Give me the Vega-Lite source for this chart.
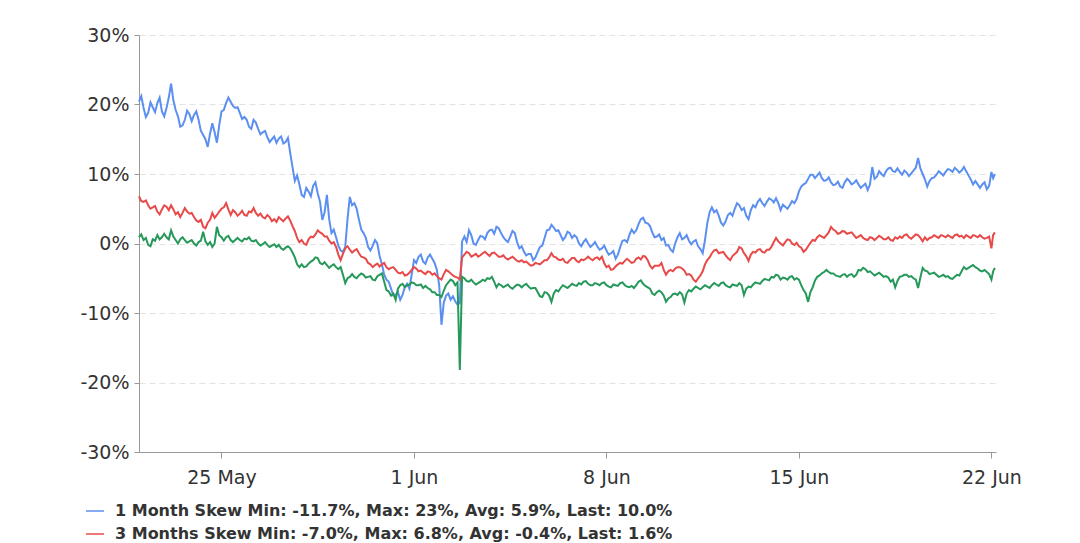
{
 "$schema": "https://vega.github.io/schema/vega-lite/v6.json",
 "width": 857, "height": 417,
 "autosize": {"type": "none"},
 "padding": {"left": 139, "top": 35, "right": 84, "bottom": 91},
 "background": "white",
 "config": {"view": {"stroke": null}, "font": "DejaVu Sans"},
 "data": {"name": "skew"},
 "datasets": {"skew": [
{"t":"2020-05-22T00:00","m1":20.4,"m3":6.8,"m6":0.9},
{"t":"2020-05-22T02:00","m1":21.2,"m3":6.1,"m6":1.3},
{"t":"2020-05-22T04:00","m1":19.5,"m3":6.0,"m6":0.5},
{"t":"2020-05-22T06:00","m1":18.2,"m3":6.2,"m6":0.8},
{"t":"2020-05-22T08:00","m1":18.8,"m3":5.5,"m6":-0.2},
{"t":"2020-05-22T10:00","m1":20.3,"m3":5.0,"m6":-0.4},
{"t":"2020-05-22T12:00","m1":19.6,"m3":5.2,"m6":0.6},
{"t":"2020-05-22T14:00","m1":18.9,"m3":5.4,"m6":0.4},
{"t":"2020-05-22T16:00","m1":20.2,"m3":4.6,"m6":1.2},
{"t":"2020-05-22T18:00","m1":21.0,"m3":4.2,"m6":0.6},
{"t":"2020-05-22T20:00","m1":19.0,"m3":4.9,"m6":0.9},
{"t":"2020-05-22T22:00","m1":18.3,"m3":5.5,"m6":1.4},
{"t":"2020-05-23T00:00","m1":19.5,"m3":5.3,"m6":0.9},
{"t":"2020-05-23T02:00","m1":21.0,"m3":4.8,"m6":0.6},
{"t":"2020-05-23T04:00","m1":23.0,"m3":5.5,"m6":1.9},
{"t":"2020-05-23T06:00","m1":20.6,"m3":4.9,"m6":1.0},
{"t":"2020-05-23T08:00","m1":19.2,"m3":4.2,"m6":0.5},
{"t":"2020-05-23T10:00","m1":18.3,"m3":4.5,"m6":0.0},
{"t":"2020-05-23T12:00","m1":16.8,"m3":3.8,"m6":0.6},
{"t":"2020-05-23T14:00","m1":17.0,"m3":4.4,"m6":0.9},
{"t":"2020-05-23T16:00","m1":17.8,"m3":5.1,"m6":0.5},
{"t":"2020-05-23T18:00","m1":19.1,"m3":4.6,"m6":0.1},
{"t":"2020-05-23T20:00","m1":18.6,"m3":4.3,"m6":0.3},
{"t":"2020-05-23T22:00","m1":17.6,"m3":4.4,"m6":0.5},
{"t":"2020-05-24T00:00","m1":18.5,"m3":3.8,"m6":0.0},
{"t":"2020-05-24T02:00","m1":19.0,"m3":3.3,"m6":-0.3},
{"t":"2020-05-24T04:00","m1":17.8,"m3":3.1,"m6":0.2},
{"t":"2020-05-24T06:00","m1":16.2,"m3":3.4,"m6":0.4},
{"t":"2020-05-24T08:00","m1":15.6,"m3":2.4,"m6":1.7},
{"t":"2020-05-24T10:00","m1":15.0,"m3":2.2,"m6":0.3},
{"t":"2020-05-24T12:00","m1":13.9,"m3":3.0,"m6":-0.2},
{"t":"2020-05-24T14:00","m1":15.8,"m3":3.4,"m6":0.2},
{"t":"2020-05-24T16:00","m1":17.3,"m3":4.4,"m6":-0.5},
{"t":"2020-05-24T18:00","m1":16.0,"m3":3.7,"m6":0.0},
{"t":"2020-05-24T20:00","m1":14.5,"m3":4.1,"m6":2.4},
{"t":"2020-05-24T22:00","m1":17.0,"m3":4.6,"m6":1.2},
{"t":"2020-05-25T00:00","m1":19.0,"m3":5.0,"m6":0.9},
{"t":"2020-05-25T02:00","m1":19.2,"m3":5.2,"m6":0.4},
{"t":"2020-05-25T04:00","m1":20.2,"m3":5.8,"m6":0.9},
{"t":"2020-05-25T06:00","m1":21.0,"m3":4.9,"m6":1.1},
{"t":"2020-05-25T08:00","m1":20.4,"m3":4.1,"m6":0.5},
{"t":"2020-05-25T10:00","m1":19.8,"m3":4.8,"m6":0.2},
{"t":"2020-05-25T12:00","m1":19.5,"m3":4.5,"m6":0.5},
{"t":"2020-05-25T14:00","m1":19.6,"m3":4.0,"m6":0.8},
{"t":"2020-05-25T16:00","m1":18.8,"m3":4.3,"m6":0.5},
{"t":"2020-05-25T18:00","m1":17.9,"m3":4.7,"m6":0.3},
{"t":"2020-05-25T20:00","m1":18.2,"m3":4.1,"m6":0.7},
{"t":"2020-05-25T22:00","m1":17.8,"m3":4.0,"m6":0.6},
{"t":"2020-05-26T00:00","m1":16.8,"m3":4.6,"m6":0.9},
{"t":"2020-05-26T02:00","m1":16.5,"m3":4.5,"m6":0.4},
{"t":"2020-05-26T04:00","m1":17.8,"m3":5.1,"m6":0.3},
{"t":"2020-05-26T06:00","m1":17.4,"m3":4.4,"m6":0.5},
{"t":"2020-05-26T08:00","m1":16.5,"m3":4.0,"m6":0.0},
{"t":"2020-05-26T10:00","m1":15.7,"m3":4.3,"m6":-0.3},
{"t":"2020-05-26T12:00","m1":16.0,"m3":3.8,"m6":-0.1},
{"t":"2020-05-26T14:00","m1":16.2,"m3":3.6,"m6":0.2},
{"t":"2020-05-26T16:00","m1":15.3,"m3":4.1,"m6":-0.2},
{"t":"2020-05-26T18:00","m1":14.6,"m3":3.8,"m6":-0.5},
{"t":"2020-05-26T20:00","m1":15.0,"m3":3.2,"m6":-0.3},
{"t":"2020-05-26T22:00","m1":15.4,"m3":3.5,"m6":-0.1},
{"t":"2020-05-27T00:00","m1":14.5,"m3":3.1,"m6":-0.5},
{"t":"2020-05-27T02:00","m1":15.1,"m3":3.8,"m6":-0.2},
{"t":"2020-05-27T04:00","m1":15.4,"m3":3.5,"m6":-0.7},
{"t":"2020-05-27T06:00","m1":14.4,"m3":3.2,"m6":-0.9},
{"t":"2020-05-27T08:00","m1":14.6,"m3":3.6,"m6":-0.6},
{"t":"2020-05-27T10:00","m1":15.2,"m3":3.9,"m6":-0.4},
{"t":"2020-05-27T12:00","m1":13.0,"m3":3.3,"m6":-0.7},
{"t":"2020-05-27T14:00","m1":11.0,"m3":2.5,"m6":-1.3},
{"t":"2020-05-27T16:00","m1":9.0,"m3":1.8,"m6":-2.0},
{"t":"2020-05-27T18:00","m1":9.8,"m3":0.8,"m6":-3.0},
{"t":"2020-05-27T20:00","m1":8.5,"m3":0.2,"m6":-3.4},
{"t":"2020-05-27T22:00","m1":7.0,"m3":0.5,"m6":-3.0},
{"t":"2020-05-28T00:00","m1":6.7,"m3":0.0,"m6":-3.4},
{"t":"2020-05-28T02:00","m1":8.0,"m3":-0.2,"m6":-3.3},
{"t":"2020-05-28T04:00","m1":7.5,"m3":0.6,"m6":-2.9},
{"t":"2020-05-28T06:00","m1":6.8,"m3":1.0,"m6":-2.6},
{"t":"2020-05-28T08:00","m1":8.3,"m3":0.9,"m6":-2.4},
{"t":"2020-05-28T10:00","m1":8.8,"m3":1.3,"m6":-2.0},
{"t":"2020-05-28T12:00","m1":7.2,"m3":1.9,"m6":-2.1},
{"t":"2020-05-28T14:00","m1":6.0,"m3":1.6,"m6":-2.8},
{"t":"2020-05-28T16:00","m1":3.4,"m3":1.4,"m6":-3.0},
{"t":"2020-05-28T18:00","m1":4.5,"m3":1.0,"m6":-2.7},
{"t":"2020-05-28T20:00","m1":7.0,"m3":1.0,"m6":-3.1},
{"t":"2020-05-28T22:00","m1":3.5,"m3":0.4,"m6":-3.5},
{"t":"2020-05-29T00:00","m1":1.5,"m3":0.0,"m6":-3.2},
{"t":"2020-05-29T02:00","m1":2.0,"m3":0.2,"m6":-3.0},
{"t":"2020-05-29T04:00","m1":0.9,"m3":-0.5,"m6":-3.4},
{"t":"2020-05-29T06:00","m1":-0.3,"m3":-1.6,"m6":-3.7},
{"t":"2020-05-29T08:00","m1":-1.0,"m3":-2.4,"m6":-3.4},
{"t":"2020-05-29T10:00","m1":-1.2,"m3":-1.5,"m6":-4.5},
{"t":"2020-05-29T12:00","m1":-0.5,"m3":-0.7,"m6":-5.7},
{"t":"2020-05-29T14:00","m1":3.5,"m3":-0.4,"m6":-5.0},
{"t":"2020-05-29T16:00","m1":6.7,"m3":-0.9,"m6":-4.8},
{"t":"2020-05-29T18:00","m1":5.5,"m3":-1.3,"m6":-4.4},
{"t":"2020-05-29T20:00","m1":5.8,"m3":-1.0,"m6":-4.8},
{"t":"2020-05-29T22:00","m1":5.0,"m3":-0.8,"m6":-5.0},
{"t":"2020-05-30T00:00","m1":3.4,"m3":-1.4,"m6":-4.6},
{"t":"2020-05-30T02:00","m1":2.0,"m3":-1.9,"m6":-4.3},
{"t":"2020-05-30T04:00","m1":1.5,"m3":-2.0,"m6":-4.5},
{"t":"2020-05-30T06:00","m1":0.8,"m3":-2.2,"m6":-4.9},
{"t":"2020-05-30T08:00","m1":-0.5,"m3":-2.8,"m6":-4.8},
{"t":"2020-05-30T10:00","m1":-1.0,"m3":-3.0,"m6":-4.7},
{"t":"2020-05-30T12:00","m1":-0.3,"m3":-3.4,"m6":-5.2},
{"t":"2020-05-30T14:00","m1":0.5,"m3":-3.1,"m6":-5.3},
{"t":"2020-05-30T16:00","m1":0.0,"m3":-2.9,"m6":-4.7},
{"t":"2020-05-30T18:00","m1":-1.8,"m3":-3.3,"m6":-4.5},
{"t":"2020-05-30T20:00","m1":-3.0,"m3":-3.0,"m6":-4.3},
{"t":"2020-05-30T22:00","m1":-4.5,"m3":-2.8,"m6":-5.5},
{"t":"2020-05-31T00:00","m1":-5.2,"m3":-3.4,"m6":-6.7},
{"t":"2020-05-31T02:00","m1":-5.5,"m3":-3.7,"m6":-6.9},
{"t":"2020-05-31T04:00","m1":-6.5,"m3":-3.5,"m6":-7.5},
{"t":"2020-05-31T06:00","m1":-7.5,"m3":-3.4,"m6":-7.2},
{"t":"2020-05-31T08:00","m1":-7.4,"m3":-3.8,"m6":-8.1},
{"t":"2020-05-31T10:00","m1":-7.0,"m3":-4.2,"m6":-6.5},
{"t":"2020-05-31T12:00","m1":-8.1,"m3":-4.3,"m6":-6.0},
{"t":"2020-05-31T14:00","m1":-7.4,"m3":-4.1,"m6":-5.8},
{"t":"2020-05-31T16:00","m1":-6.3,"m3":-4.6,"m6":-6.3},
{"t":"2020-05-31T18:00","m1":-5.8,"m3":-4.5,"m6":-6.0},
{"t":"2020-05-31T20:00","m1":-6.5,"m3":-4.2,"m6":-5.9},
{"t":"2020-05-31T22:00","m1":-4.5,"m3":-3.8,"m6":-5.6},
{"t":"2020-06-01T00:00","m1":-2.4,"m3":-3.4,"m6":-5.7},
{"t":"2020-06-01T02:00","m1":-2.8,"m3":-3.6,"m6":-6.0},
{"t":"2020-06-01T04:00","m1":-1.9,"m3":-4.0,"m6":-6.0},
{"t":"2020-06-01T06:00","m1":-1.6,"m3":-3.9,"m6":-5.9},
{"t":"2020-06-01T08:00","m1":-2.6,"m3":-4.2,"m6":-6.4},
{"t":"2020-06-01T10:00","m1":-2.9,"m3":-4.4,"m6":-6.1},
{"t":"2020-06-01T12:00","m1":-2.0,"m3":-4.0,"m6":-6.4},
{"t":"2020-06-01T14:00","m1":-1.6,"m3":-4.1,"m6":-6.6},
{"t":"2020-06-01T16:00","m1":-2.2,"m3":-4.5,"m6":-7.0},
{"t":"2020-06-01T18:00","m1":-2.8,"m3":-4.3,"m6":-7.0},
{"t":"2020-06-01T20:00","m1":-3.8,"m3":-4.7,"m6":-7.4},
{"t":"2020-06-01T22:00","m1":-6.0,"m3":-5.0,"m6":-7.4},
{"t":"2020-06-02T00:00","m1":-11.7,"m3":-5.2,"m6":-7.7},
{"t":"2020-06-02T02:00","m1":-8.5,"m3":-4.4,"m6":-6.8},
{"t":"2020-06-02T04:00","m1":-7.5,"m3":-3.8,"m6":-6.0},
{"t":"2020-06-02T06:00","m1":-7.2,"m3":-4.0,"m6":-5.6},
{"t":"2020-06-02T08:00","m1":-8.1,"m3":-4.3,"m6":-5.2},
{"t":"2020-06-02T10:00","m1":-7.6,"m3":-4.6,"m6":-5.4},
{"t":"2020-06-02T12:00","m1":-8.3,"m3":-4.8,"m6":-6.0},
{"t":"2020-06-02T14:00","m1":-8.8,"m3":-4.9,"m6":-5.6},
{"t":"2020-06-02T16:00","m1":-8.6,"m3":-5.2,"m6":-18.2},
{"t":"2020-06-02T18:00","m1":0.3,"m3":-2.0,"m6":-4.8},
{"t":"2020-06-02T20:00","m1":1.0,"m3":-1.6,"m6":-5.0},
{"t":"2020-06-02T22:00","m1":0.2,"m3":-1.2,"m6":-5.4},
{"t":"2020-06-03T00:00","m1":1.9,"m3":-1.4,"m6":-5.5},
{"t":"2020-06-03T02:00","m1":1.2,"m3":-1.9,"m6":-5.2},
{"t":"2020-06-03T04:00","m1":0.0,"m3":-1.7,"m6":-5.6},
{"t":"2020-06-03T06:00","m1":-0.2,"m3":-1.5,"m6":-5.9},
{"t":"2020-06-03T08:00","m1":0.5,"m3":-1.9,"m6":-5.7},
{"t":"2020-06-03T10:00","m1":1.1,"m3":-1.7,"m6":-5.5},
{"t":"2020-06-03T12:00","m1":1.0,"m3":-1.4,"m6":-5.2},
{"t":"2020-06-03T14:00","m1":0.6,"m3":-1.2,"m6":-5.4},
{"t":"2020-06-03T16:00","m1":1.5,"m3":-1.5,"m6":-5.0},
{"t":"2020-06-03T18:00","m1":1.9,"m3":-1.8,"m6":-5.1},
{"t":"2020-06-03T20:00","m1":2.0,"m3":-1.4,"m6":-4.8},
{"t":"2020-06-03T22:00","m1":1.4,"m3":-1.3,"m6":-5.5},
{"t":"2020-06-04T00:00","m1":2.4,"m3":-1.6,"m6":-6.3},
{"t":"2020-06-04T02:00","m1":2.2,"m3":-1.9,"m6":-5.8},
{"t":"2020-06-04T04:00","m1":1.5,"m3":-1.9,"m6":-6.0},
{"t":"2020-06-04T06:00","m1":0.9,"m3":-1.7,"m6":-6.3},
{"t":"2020-06-04T08:00","m1":0.5,"m3":-2.1,"m6":-6.1},
{"t":"2020-06-04T10:00","m1":0.2,"m3":-2.3,"m6":-5.9},
{"t":"2020-06-04T12:00","m1":1.0,"m3":-2.1,"m6":-6.3},
{"t":"2020-06-04T14:00","m1":1.8,"m3":-1.9,"m6":-6.5},
{"t":"2020-06-04T16:00","m1":1.5,"m3":-2.2,"m6":-6.2},
{"t":"2020-06-04T18:00","m1":0.2,"m3":-2.5,"m6":-5.9},
{"t":"2020-06-04T20:00","m1":-0.7,"m3":-2.6,"m6":-6.0},
{"t":"2020-06-04T22:00","m1":-0.4,"m3":-2.4,"m6":-6.3},
{"t":"2020-06-05T00:00","m1":-1.2,"m3":-2.7,"m6":-6.0},
{"t":"2020-06-05T02:00","m1":-1.7,"m3":-2.6,"m6":-5.8},
{"t":"2020-06-05T04:00","m1":-1.5,"m3":-2.9,"m6":-6.2},
{"t":"2020-06-05T06:00","m1":-1.5,"m3":-3.2,"m6":-6.5},
{"t":"2020-06-05T08:00","m1":-2.4,"m3":-3.1,"m6":-6.4},
{"t":"2020-06-05T10:00","m1":-2.0,"m3":-2.8,"m6":-6.4},
{"t":"2020-06-05T12:00","m1":-1.2,"m3":-2.9,"m6":-7.0},
{"t":"2020-06-05T14:00","m1":-0.5,"m3":-3.0,"m6":-7.6},
{"t":"2020-06-05T16:00","m1":-0.3,"m3":-2.7,"m6":-7.7},
{"t":"2020-06-05T18:00","m1":0.8,"m3":-2.4,"m6":-7.0},
{"t":"2020-06-05T20:00","m1":1.9,"m3":-2.4,"m6":-7.1},
{"t":"2020-06-05T22:00","m1":2.0,"m3":-2.0,"m6":-7.5},
{"t":"2020-06-06T00:00","m1":2.7,"m3":-1.4,"m6":-8.4},
{"t":"2020-06-06T02:00","m1":2.3,"m3":-1.9,"m6":-7.2},
{"t":"2020-06-06T04:00","m1":1.8,"m3":-2.0,"m6":-6.7},
{"t":"2020-06-06T06:00","m1":1.9,"m3":-2.3,"m6":-6.9},
{"t":"2020-06-06T08:00","m1":1.2,"m3":-2.4,"m6":-6.4},
{"t":"2020-06-06T10:00","m1":0.5,"m3":-2.2,"m6":-6.0},
{"t":"2020-06-06T12:00","m1":0.9,"m3":-2.7,"m6":-6.2},
{"t":"2020-06-06T14:00","m1":1.7,"m3":-2.8,"m6":-6.4},
{"t":"2020-06-06T16:00","m1":1.5,"m3":-2.4,"m6":-6.1},
{"t":"2020-06-06T18:00","m1":0.8,"m3":-2.1,"m6":-5.8},
{"t":"2020-06-06T20:00","m1":1.2,"m3":-2.1,"m6":-6.0},
{"t":"2020-06-06T22:00","m1":0.9,"m3":-2.5,"m6":-6.1},
{"t":"2020-06-07T00:00","m1":0.0,"m3":-2.7,"m6":-5.7},
{"t":"2020-06-07T02:00","m1":-0.4,"m3":-2.3,"m6":-5.9},
{"t":"2020-06-07T04:00","m1":0.2,"m3":-2.4,"m6":-5.5},
{"t":"2020-06-07T06:00","m1":0.6,"m3":-2.2,"m6":-5.4},
{"t":"2020-06-07T08:00","m1":0.0,"m3":-1.9,"m6":-5.8},
{"t":"2020-06-07T10:00","m1":-0.5,"m3":-2.2,"m6":-6.0},
{"t":"2020-06-07T12:00","m1":-0.2,"m3":-2.4,"m6":-6.0},
{"t":"2020-06-07T14:00","m1":0.2,"m3":-2.1,"m6":-5.7},
{"t":"2020-06-07T16:00","m1":-0.4,"m3":-2.0,"m6":-5.8},
{"t":"2020-06-07T18:00","m1":-0.9,"m3":-2.3,"m6":-6.0},
{"t":"2020-06-07T20:00","m1":-0.7,"m3":-1.9,"m6":-5.7},
{"t":"2020-06-07T22:00","m1":-0.3,"m3":-2.8,"m6":-5.6},
{"t":"2020-06-08T00:00","m1":-1.0,"m3":-3.4,"m6":-6.0},
{"t":"2020-06-08T02:00","m1":-1.6,"m3":-3.2,"m6":-6.2},
{"t":"2020-06-08T04:00","m1":-1.4,"m3":-3.8,"m6":-6.3},
{"t":"2020-06-08T06:00","m1":-1.1,"m3":-3.7,"m6":-5.9},
{"t":"2020-06-08T08:00","m1":-2.2,"m3":-3.3,"m6":-6.0},
{"t":"2020-06-08T10:00","m1":-1.6,"m3":-3.0,"m6":-6.1},
{"t":"2020-06-08T12:00","m1":-0.5,"m3":-2.8,"m6":-5.7},
{"t":"2020-06-08T14:00","m1":0.4,"m3":-2.9,"m6":-5.6},
{"t":"2020-06-08T16:00","m1":0.5,"m3":-2.5,"m6":-6.0},
{"t":"2020-06-08T18:00","m1":0.2,"m3":-2.2,"m6":-6.2},
{"t":"2020-06-08T20:00","m1":1.2,"m3":-2.5,"m6":-6.3},
{"t":"2020-06-08T22:00","m1":2.0,"m3":-2.8,"m6":-6.1},
{"t":"2020-06-09T00:00","m1":1.5,"m3":-2.7,"m6":-6.4},
{"t":"2020-06-09T02:00","m1":1.9,"m3":-2.2,"m6":-6.0},
{"t":"2020-06-09T04:00","m1":2.8,"m3":-2.0,"m6":-5.5},
{"t":"2020-06-09T06:00","m1":3.5,"m3":-2.3,"m6":-5.3},
{"t":"2020-06-09T08:00","m1":3.7,"m3":-1.8,"m6":-5.8},
{"t":"2020-06-09T10:00","m1":3.0,"m3":-1.9,"m6":-6.1},
{"t":"2020-06-09T12:00","m1":2.9,"m3":-2.4,"m6":-6.3},
{"t":"2020-06-09T14:00","m1":2.5,"m3":-3.2,"m6":-6.5},
{"t":"2020-06-09T16:00","m1":1.6,"m3":-3.6,"m6":-7.2},
{"t":"2020-06-09T18:00","m1":0.9,"m3":-3.2,"m6":-7.4},
{"t":"2020-06-09T20:00","m1":1.0,"m3":-3.2,"m6":-7.0},
{"t":"2020-06-09T22:00","m1":1.3,"m3":-3.2,"m6":-6.8},
{"t":"2020-06-10T00:00","m1":0.5,"m3":-2.8,"m6":-7.0},
{"t":"2020-06-10T02:00","m1":0.8,"m3":-3.8,"m6":-7.5},
{"t":"2020-06-10T04:00","m1":-0.3,"m3":-4.5,"m6":-8.4},
{"t":"2020-06-10T06:00","m1":-0.2,"m3":-4.0,"m6":-7.9},
{"t":"2020-06-10T08:00","m1":-0.9,"m3":-3.8,"m6":-7.7},
{"t":"2020-06-10T10:00","m1":-1.2,"m3":-4.0,"m6":-7.3},
{"t":"2020-06-10T12:00","m1":0.0,"m3":-3.6,"m6":-7.2},
{"t":"2020-06-10T14:00","m1":0.9,"m3":-3.4,"m6":-7.4},
{"t":"2020-06-10T16:00","m1":1.5,"m3":-3.4,"m6":-7.0},
{"t":"2020-06-10T18:00","m1":0.6,"m3":-3.6,"m6":-7.3},
{"t":"2020-06-10T20:00","m1":0.8,"m3":-3.9,"m6":-8.5},
{"t":"2020-06-10T22:00","m1":1.2,"m3":-4.5,"m6":-7.2},
{"t":"2020-06-11T00:00","m1":0.4,"m3":-4.4,"m6":-6.7},
{"t":"2020-06-11T02:00","m1":-0.1,"m3":-4.6,"m6":-6.9},
{"t":"2020-06-11T04:00","m1":0.3,"m3":-5.2,"m6":-6.5},
{"t":"2020-06-11T06:00","m1":0.5,"m3":-5.5,"m6":-6.2},
{"t":"2020-06-11T08:00","m1":-0.4,"m3":-5.0,"m6":-6.4},
{"t":"2020-06-11T10:00","m1":-0.8,"m3":-4.6,"m6":-6.6},
{"t":"2020-06-11T12:00","m1":-1.4,"m3":-4.0,"m6":-6.3},
{"t":"2020-06-11T14:00","m1":0.5,"m3":-3.0,"m6":-6.0},
{"t":"2020-06-11T16:00","m1":2.9,"m3":-2.4,"m6":-6.2},
{"t":"2020-06-11T18:00","m1":4.5,"m3":-2.0,"m6":-6.4},
{"t":"2020-06-11T20:00","m1":5.2,"m3":-1.4,"m6":-6.0},
{"t":"2020-06-11T22:00","m1":4.5,"m3":-1.0,"m6":-5.7},
{"t":"2020-06-12T00:00","m1":4.8,"m3":-0.9,"m6":-5.9},
{"t":"2020-06-12T02:00","m1":4.0,"m3":-1.4,"m6":-6.1},
{"t":"2020-06-12T04:00","m1":3.0,"m3":-1.3,"m6":-5.7},
{"t":"2020-06-12T06:00","m1":2.6,"m3":-1.2,"m6":-5.6},
{"t":"2020-06-12T08:00","m1":3.2,"m3":-1.7,"m6":-6.0},
{"t":"2020-06-12T10:00","m1":4.1,"m3":-2.1,"m6":-6.2},
{"t":"2020-06-12T12:00","m1":4.4,"m3":-2.4,"m6":-6.3},
{"t":"2020-06-12T14:00","m1":4.0,"m3":-1.8,"m6":-5.9},
{"t":"2020-06-12T16:00","m1":5.0,"m3":-1.5,"m6":-6.0},
{"t":"2020-06-12T18:00","m1":5.8,"m3":-1.2,"m6":-6.1},
{"t":"2020-06-12T20:00","m1":5.5,"m3":-0.5,"m6":-5.7},
{"t":"2020-06-12T22:00","m1":4.8,"m3":-0.7,"m6":-6.0},
{"t":"2020-06-13T00:00","m1":5.1,"m3":-1.4,"m6":-7.4},
{"t":"2020-06-13T02:00","m1":4.0,"m3":-1.8,"m6":-6.5},
{"t":"2020-06-13T04:00","m1":3.5,"m3":-2.5,"m6":-6.2},
{"t":"2020-06-13T06:00","m1":4.8,"m3":-1.6,"m6":-6.3},
{"t":"2020-06-13T08:00","m1":5.5,"m3":-1.2,"m6":-5.9},
{"t":"2020-06-13T10:00","m1":5.2,"m3":-1.3,"m6":-5.6},
{"t":"2020-06-13T12:00","m1":6.0,"m3":-0.9,"m6":-5.7},
{"t":"2020-06-13T14:00","m1":6.4,"m3":-0.8,"m6":-5.8},
{"t":"2020-06-13T16:00","m1":5.8,"m3":-1.2,"m6":-5.4},
{"t":"2020-06-13T18:00","m1":5.4,"m3":-1.3,"m6":-5.1},
{"t":"2020-06-13T20:00","m1":6.0,"m3":-0.9,"m6":-5.2},
{"t":"2020-06-13T22:00","m1":6.5,"m3":-0.9,"m6":-5.3},
{"t":"2020-06-14T00:00","m1":6.3,"m3":-0.5,"m6":-4.8},
{"t":"2020-06-14T02:00","m1":5.9,"m3":0.2,"m6":-4.9},
{"t":"2020-06-14T04:00","m1":6.5,"m3":0.8,"m6":-4.5},
{"t":"2020-06-14T06:00","m1":5.8,"m3":0.3,"m6":-4.6},
{"t":"2020-06-14T08:00","m1":4.8,"m3":0.0,"m6":-5.2},
{"t":"2020-06-14T10:00","m1":5.6,"m3":-0.3,"m6":-4.9},
{"t":"2020-06-14T12:00","m1":5.3,"m3":0.2,"m6":-5.0},
{"t":"2020-06-14T14:00","m1":5.0,"m3":0.6,"m6":-5.2},
{"t":"2020-06-14T16:00","m1":5.5,"m3":0.5,"m6":-4.8},
{"t":"2020-06-14T18:00","m1":6.1,"m3":0.0,"m6":-4.7},
{"t":"2020-06-14T20:00","m1":5.8,"m3":-0.2,"m6":-5.2},
{"t":"2020-06-14T22:00","m1":6.4,"m3":0.1,"m6":-5.0},
{"t":"2020-06-15T00:00","m1":7.5,"m3":-0.4,"m6":-5.2},
{"t":"2020-06-15T02:00","m1":8.2,"m3":-0.6,"m6":-6.0},
{"t":"2020-06-15T04:00","m1":8.5,"m3":-1.2,"m6":-6.7},
{"t":"2020-06-15T06:00","m1":8.7,"m3":-0.9,"m6":-7.2},
{"t":"2020-06-15T08:00","m1":9.3,"m3":-0.4,"m6":-8.4},
{"t":"2020-06-15T10:00","m1":9.9,"m3":0.1,"m6":-7.0},
{"t":"2020-06-15T12:00","m1":9.9,"m3":0.5,"m6":-6.3},
{"t":"2020-06-15T14:00","m1":9.4,"m3":0.4,"m6":-5.3},
{"t":"2020-06-15T16:00","m1":9.8,"m3":0.9,"m6":-4.8},
{"t":"2020-06-15T18:00","m1":10.2,"m3":1.2,"m6":-4.6},
{"t":"2020-06-15T20:00","m1":9.4,"m3":1.0,"m6":-4.3},
{"t":"2020-06-15T22:00","m1":9.0,"m3":0.8,"m6":-4.1},
{"t":"2020-06-16T00:00","m1":9.1,"m3":1.2,"m6":-3.8},
{"t":"2020-06-16T02:00","m1":9.5,"m3":1.6,"m6":-4.1},
{"t":"2020-06-16T04:00","m1":8.8,"m3":2.4,"m6":-4.3},
{"t":"2020-06-16T06:00","m1":8.4,"m3":2.0,"m6":-4.3},
{"t":"2020-06-16T08:00","m1":8.5,"m3":1.8,"m6":-4.6},
{"t":"2020-06-16T10:00","m1":8.9,"m3":1.4,"m6":-4.7},
{"t":"2020-06-16T12:00","m1":8.2,"m3":1.5,"m6":-4.8},
{"t":"2020-06-16T14:00","m1":8.0,"m3":1.8,"m6":-4.5},
{"t":"2020-06-16T16:00","m1":8.8,"m3":1.7,"m6":-4.4},
{"t":"2020-06-16T18:00","m1":9.3,"m3":1.4,"m6":-4.8},
{"t":"2020-06-16T20:00","m1":9.0,"m3":1.5,"m6":-4.5},
{"t":"2020-06-16T22:00","m1":8.5,"m3":1.6,"m6":-4.4},
{"t":"2020-06-17T00:00","m1":8.7,"m3":1.2,"m6":-4.8},
{"t":"2020-06-17T02:00","m1":9.1,"m3":0.8,"m6":-4.5},
{"t":"2020-06-17T04:00","m1":8.5,"m3":1.0,"m6":-3.8},
{"t":"2020-06-17T06:00","m1":8.0,"m3":1.2,"m6":-3.9},
{"t":"2020-06-17T08:00","m1":8.3,"m3":0.8,"m6":-3.5},
{"t":"2020-06-17T10:00","m1":8.6,"m3":0.6,"m6":-3.7},
{"t":"2020-06-17T12:00","m1":7.7,"m3":0.5,"m6":-4.1},
{"t":"2020-06-17T14:00","m1":8.5,"m3":0.9,"m6":-4.0},
{"t":"2020-06-17T16:00","m1":11.0,"m3":0.8,"m6":-4.3},
{"t":"2020-06-17T18:00","m1":9.3,"m3":0.5,"m6":-4.6},
{"t":"2020-06-17T20:00","m1":9.6,"m3":0.8,"m6":-4.4},
{"t":"2020-06-17T22:00","m1":10.4,"m3":1.1,"m6":-4.2},
{"t":"2020-06-18T00:00","m1":10.0,"m3":0.9,"m6":-4.5},
{"t":"2020-06-18T02:00","m1":9.7,"m3":0.6,"m6":-4.8},
{"t":"2020-06-18T04:00","m1":10.4,"m3":0.6,"m6":-4.7},
{"t":"2020-06-18T06:00","m1":10.8,"m3":0.9,"m6":-4.9},
{"t":"2020-06-18T08:00","m1":10.9,"m3":0.5,"m6":-5.5},
{"t":"2020-06-18T10:00","m1":10.4,"m3":0.4,"m6":-5.2},
{"t":"2020-06-18T12:00","m1":10.3,"m3":0.9,"m6":-6.3},
{"t":"2020-06-18T14:00","m1":10.8,"m3":0.7,"m6":-5.4},
{"t":"2020-06-18T16:00","m1":10.3,"m3":1.0,"m6":-4.8},
{"t":"2020-06-18T18:00","m1":9.9,"m3":0.8,"m6":-4.7},
{"t":"2020-06-18T20:00","m1":10.5,"m3":1.2,"m6":-4.5},
{"t":"2020-06-18T22:00","m1":10.2,"m3":1.3,"m6":-4.5},
{"t":"2020-06-19T00:00","m1":9.7,"m3":0.9,"m6":-4.8},
{"t":"2020-06-19T02:00","m1":10.1,"m3":0.7,"m6":-4.7},
{"t":"2020-06-19T04:00","m1":10.5,"m3":1.0,"m6":-5.0},
{"t":"2020-06-19T06:00","m1":10.9,"m3":1.3,"m6":-5.2},
{"t":"2020-06-19T08:00","m1":12.3,"m3":1.2,"m6":-6.4},
{"t":"2020-06-19T10:00","m1":10.8,"m3":0.8,"m6":-4.9},
{"t":"2020-06-19T12:00","m1":10.0,"m3":0.3,"m6":-3.5},
{"t":"2020-06-19T14:00","m1":9.2,"m3":0.9,"m6":-3.9},
{"t":"2020-06-19T16:00","m1":8.2,"m3":0.5,"m6":-4.0},
{"t":"2020-06-19T18:00","m1":9.0,"m3":0.8,"m6":-4.4},
{"t":"2020-06-19T20:00","m1":9.4,"m3":0.9,"m6":-4.3},
{"t":"2020-06-19T22:00","m1":9.5,"m3":1.2,"m6":-4.2},
{"t":"2020-06-20T00:00","m1":9.9,"m3":1.0,"m6":-4.5},
{"t":"2020-06-20T02:00","m1":10.4,"m3":0.8,"m6":-4.8},
{"t":"2020-06-20T04:00","m1":10.1,"m3":1.2,"m6":-4.7},
{"t":"2020-06-20T06:00","m1":9.8,"m3":1.1,"m6":-4.5},
{"t":"2020-06-20T08:00","m1":10.3,"m3":0.9,"m6":-4.8},
{"t":"2020-06-20T10:00","m1":10.7,"m3":1.2,"m6":-4.7},
{"t":"2020-06-20T12:00","m1":10.6,"m3":1.0,"m6":-5.0},
{"t":"2020-06-20T14:00","m1":10.3,"m3":0.8,"m6":-5.1},
{"t":"2020-06-20T16:00","m1":10.9,"m3":1.2,"m6":-4.8},
{"t":"2020-06-20T18:00","m1":10.6,"m3":1.3,"m6":-4.5},
{"t":"2020-06-20T20:00","m1":10.2,"m3":1.0,"m6":-4.6},
{"t":"2020-06-20T22:00","m1":10.5,"m3":1.1,"m6":-4.0},
{"t":"2020-06-21T00:00","m1":11.0,"m3":0.8,"m6":-3.4},
{"t":"2020-06-21T02:00","m1":10.4,"m3":1.2,"m6":-3.7},
{"t":"2020-06-21T04:00","m1":9.8,"m3":1.0,"m6":-3.5},
{"t":"2020-06-21T06:00","m1":9.2,"m3":0.8,"m6":-3.3},
{"t":"2020-06-21T08:00","m1":8.5,"m3":1.2,"m6":-3.1},
{"t":"2020-06-21T10:00","m1":9.0,"m3":1.1,"m6":-3.4},
{"t":"2020-06-21T12:00","m1":8.5,"m3":0.9,"m6":-3.6},
{"t":"2020-06-21T14:00","m1":8.0,"m3":1.2,"m6":-3.9},
{"t":"2020-06-21T16:00","m1":8.5,"m3":0.9,"m6":-4.0},
{"t":"2020-06-21T18:00","m1":8.8,"m3":0.7,"m6":-3.8},
{"t":"2020-06-21T20:00","m1":7.8,"m3":0.8,"m6":-4.1},
{"t":"2020-06-21T22:00","m1":8.3,"m3":1.0,"m6":-4.4},
{"t":"2020-06-22T00:00","m1":10.3,"m3":-0.7,"m6":-5.2},
{"t":"2020-06-22T01:30","m1":9.4,"m3":1.2,"m6":-4.0},
{"t":"2020-06-22T03:00","m1":10.0,"m3":1.6,"m6":-3.5}
 ]},
 "transform": [{"fold": ["m1", "m3", "m6"], "as": ["series", "v"]}],
 "mark": {"type": "line", "strokeWidth": 2},
 "encoding": {
  "x": {"field": "t", "type": "temporal",
   "scale": {"domain": [{"year": 2020, "month": "may", "date": 22}, {"year": 2020, "month": "jun", "date": 22, "hours": 4}]},
   "axis": {"title": null, "grid": false, "format": "%-d %b",
    "values": [{"year": 2020, "month": "may", "date": 25}, {"year": 2020, "month": "jun", "date": 1}, {"year": 2020, "month": "jun", "date": 8}, {"year": 2020, "month": "jun", "date": 15}, {"year": 2020, "month": "jun", "date": 22}],
    "domainColor": "#999999", "tickColor": "#999999", "tickSize": 6, "labelFont": "DejaVu Sans", "labelFontSize": 19, "labelColor": "#333333", "labelPadding": 10, "labelFlush": false}},
  "y": {"field": "v", "type": "quantitative",
   "scale": {"domain": [-30, 30]},
   "axis": {"title": null, "values": [-30, -20, -10, 0, 10, 20, 30], "labelExpr": "datum.value + '%'",
    "grid": true, "gridDash": [6, 4], "gridColor": "#e2e2e2", "domainColor": "#999999", "tickColor": "#999999", "tickSize": 5,
    "labelFont": "DejaVu Sans", "labelFontSize": 19, "labelColor": "#333333", "labelPadding": 5}},
  "color": {"field": "series", "type": "nominal",
   "scale": {"domain": ["m1", "m3", "m6"], "range": ["#5b8ff0", "#e84a4a", "#26995a"]},
   "legend": {"title": null, "orient": "none", "legendX": -54, "legendY": 466, "direction": "vertical", "padding": 0,
    "symbolType": "stroke", "symbolSize": 324, "symbolStrokeWidth": 1.5,
    "labelFont": "DejaVu Sans", "labelFontSize": 16, "labelFontWeight": "bold", "labelColor": "#333333", "labelOffset": 10, "rowPadding": 5, "labelLimit": 1000,
    "labelExpr": "datum.label == 'm1' ? '1 Month Skew Min: -11.7%, Max: 23%, Avg: 5.9%, Last: 10.0%' : datum.label == 'm3' ? '3 Months Skew Min: -7.0%, Max: 6.8%, Avg: -0.4%, Last: 1.6%' : '6 Months Skew Min: -18.2%, Max: 2.4%, Avg: -4.2%, Last: -3.5%'"}}
 }
}
